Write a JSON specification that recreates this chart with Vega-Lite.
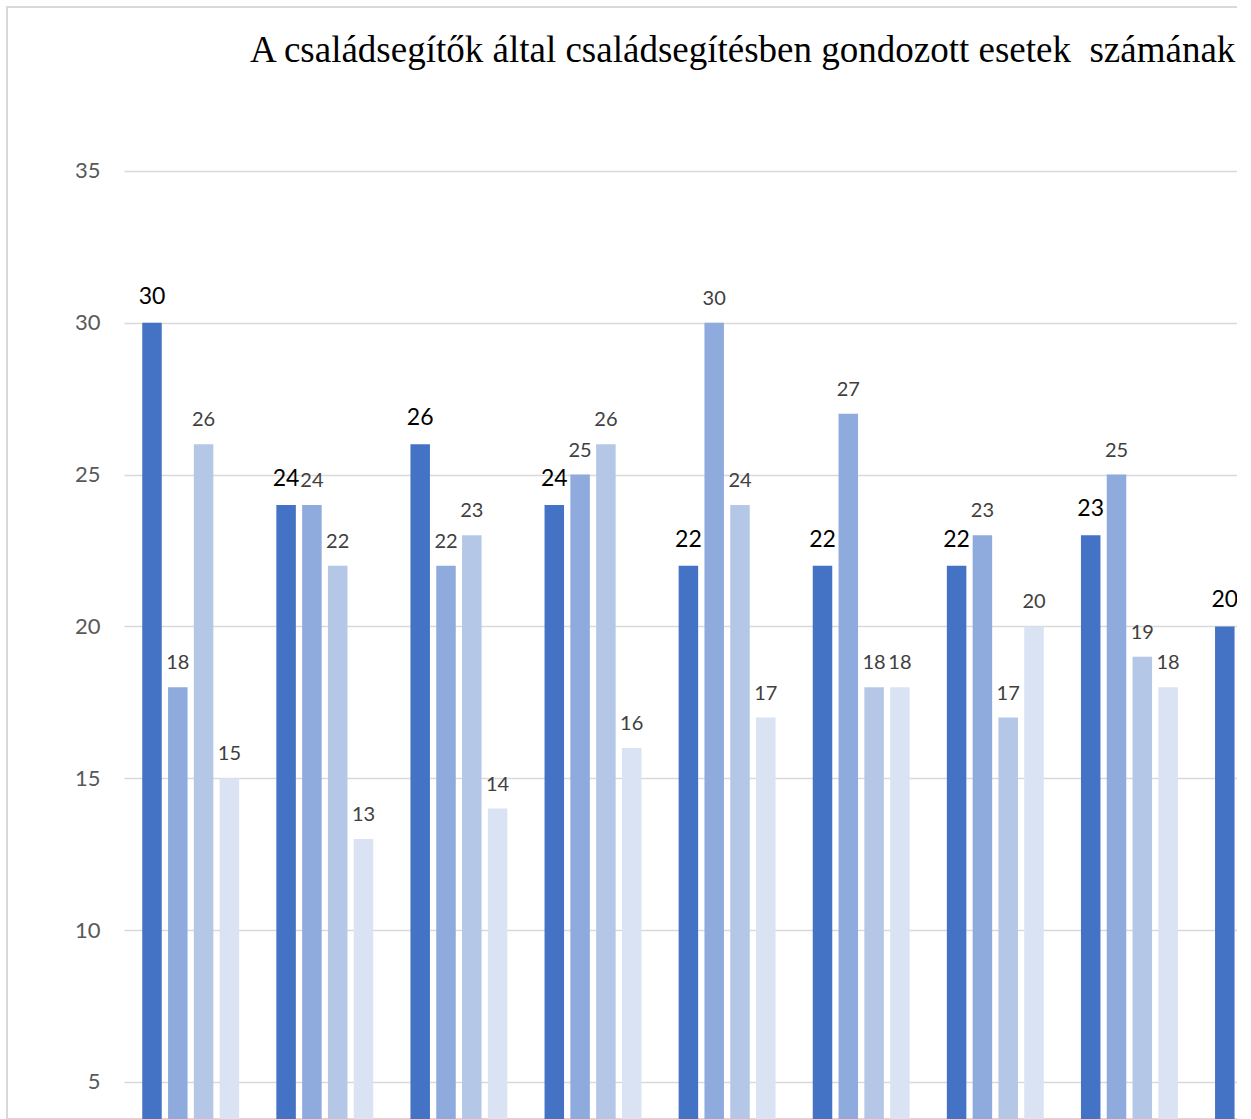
{
  "$schema": "https://vega.github.io/schema/vega-lite/v6.json",
  "autosize": {"type": "none"},
  "padding": {"left": 7, "top": 7, "right": -3, "bottom": 0},
  "width": 1233,
  "height": 1112,
  "background": "white",
  "title": {
    "text": "A családsegítők által családsegítésben gondozott esetek\u00a0 számának alakulása",
    "font": "Liberation Serif",
    "fontSize": 37,
    "fontWeight": "normal",
    "color": "#000000",
    "anchor": "start",
    "baseline": "alphabetic",
    "offset": -92,
    "dx": 243
  },
  "config": {
    "view": {"stroke": "#D9D9D9", "strokeWidth": 2},
    "axis": {"labelFont": "Lato"}
  },
  "data": {
    "values": [
      {"g": "1", "s": "S1", "v": 30}, {"g": "1", "s": "S2", "v": 18}, {"g": "1", "s": "S3", "v": 26}, {"g": "1", "s": "S4", "v": 15},
      {"g": "2", "s": "S1", "v": 24}, {"g": "2", "s": "S2", "v": 24}, {"g": "2", "s": "S3", "v": 22}, {"g": "2", "s": "S4", "v": 13},
      {"g": "3", "s": "S1", "v": 26}, {"g": "3", "s": "S2", "v": 22}, {"g": "3", "s": "S3", "v": 23}, {"g": "3", "s": "S4", "v": 14},
      {"g": "4", "s": "S1", "v": 24}, {"g": "4", "s": "S2", "v": 25}, {"g": "4", "s": "S3", "v": 26}, {"g": "4", "s": "S4", "v": 16},
      {"g": "5", "s": "S1", "v": 22}, {"g": "5", "s": "S2", "v": 30}, {"g": "5", "s": "S3", "v": 24}, {"g": "5", "s": "S4", "v": 17},
      {"g": "6", "s": "S1", "v": 22}, {"g": "6", "s": "S2", "v": 27}, {"g": "6", "s": "S3", "v": 18}, {"g": "6", "s": "S4", "v": 18},
      {"g": "7", "s": "S1", "v": 22}, {"g": "7", "s": "S2", "v": 23}, {"g": "7", "s": "S3", "v": 17}, {"g": "7", "s": "S4", "v": 20},
      {"g": "8", "s": "S1", "v": 23}, {"g": "8", "s": "S2", "v": 25}, {"g": "8", "s": "S3", "v": 19}, {"g": "8", "s": "S4", "v": 18},
      {"g": "9", "s": "S1", "v": 20}
    ]
  },
  "encoding": {
    "x": {
      "field": "g", "type": "nominal",
      "scale": {"domain": ["1","2","3","4","5","6","7","8","9"], "range": [117, 1323.2], "paddingInner": 0.2304, "paddingOuter": 0.1126},
      "axis": null
    },
    "xOffset": {
      "field": "s", "type": "nominal",
      "scale": {"domain": ["S1","S2","S3","S4"], "paddingInner": 0.244, "paddingOuter": 0.122}
    },
    "y": {
      "field": "v", "type": "quantitative",
      "scale": {"domain": [3.78, 40.395], "zero": false, "nice": false},
      "axis": {
        "title": null,
        "values": [5, 10, 15, 20, 25, 30, 35],
        "domain": false,
        "ticks": false,
        "tickSize": 0,
        "labelPadding": -93,
        "labelFontSize": 22,
        "labelColor": "#595959",
        "gridColor": "#D9D9D9",
        "gridWidth": 1.5
      }
    }
  },
  "layer": [
    {
      "mark": {"type": "bar", "clip": true},
      "encoding": {
        "color": {
          "field": "s", "type": "nominal",
          "scale": {"domain": ["S1","S2","S3","S4"], "range": ["#4472C4", "#8FAADC", "#B4C7E7", "#DAE3F3"]},
          "legend": null
        }
      }
    },
    {
      "transform": [{"filter": "datum.s === 'S1'"}],
      "mark": {"type": "text", "font": "Lato", "fontSize": 23, "color": "#000000", "baseline": "alphabetic", "dy": -19},
      "encoding": {"text": {"field": "v", "type": "quantitative"}}
    },
    {
      "transform": [{"filter": "datum.s !== 'S1'"}],
      "mark": {"type": "text", "font": "Lato", "fontSize": 20, "color": "#404040", "baseline": "alphabetic", "dy": -18},
      "encoding": {"text": {"field": "v", "type": "quantitative"}}
    }
  ]
}
